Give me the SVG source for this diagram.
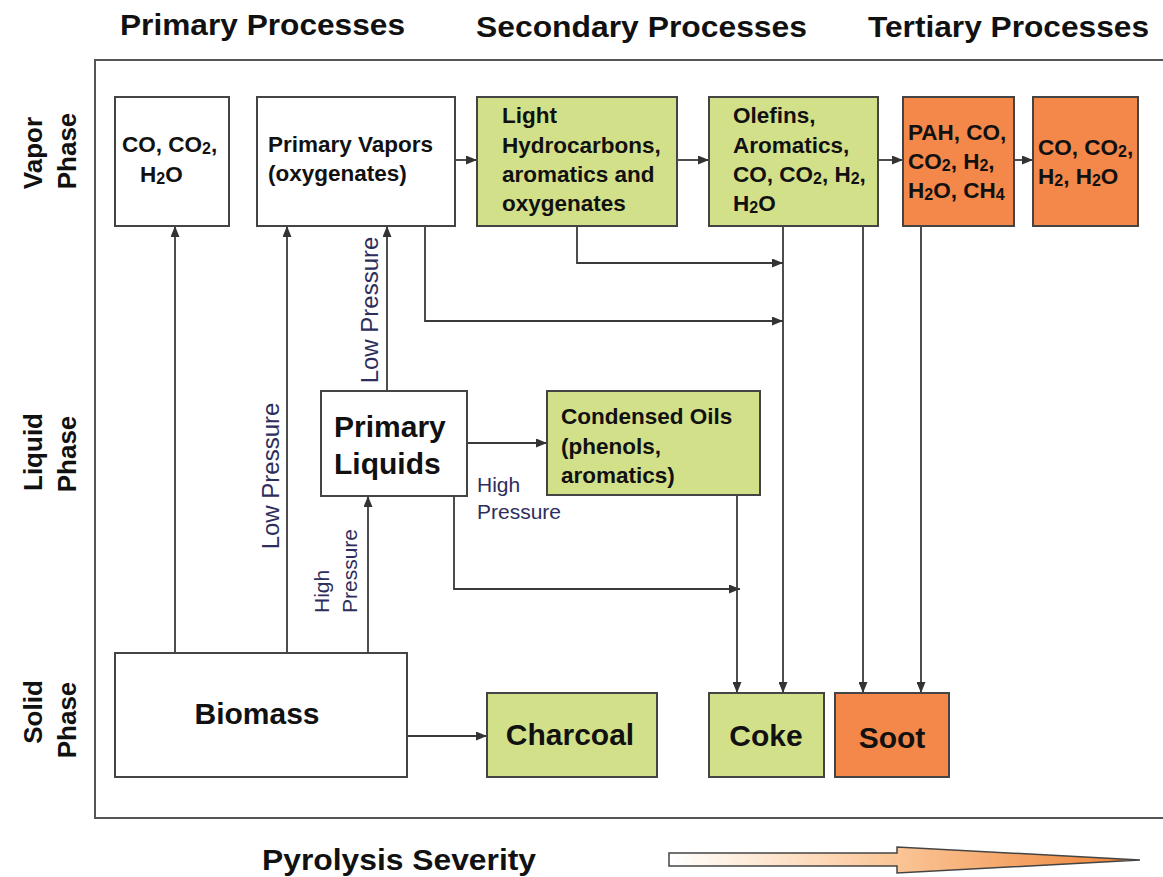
<svg xmlns="http://www.w3.org/2000/svg" width="1163" height="877" viewBox="0 0 1163 877">
<defs>
<style>
.box{stroke:#444;stroke-width:2}
.w{fill:#fff}
.g{fill:#d3e08a}
.o{fill:#f4874a}
.t{font-family:"Liberation Sans",Arial,sans-serif;font-weight:bold;font-size:22.5px;fill:#111}
.big{font-family:"Liberation Sans",Arial,sans-serif;font-weight:bold;font-size:30px;fill:#111}
.hdr{font-family:"Liberation Sans",Arial,sans-serif;font-weight:bold;font-size:29px;fill:#111}
.side{font-family:"Liberation Sans",Arial,sans-serif;font-weight:bold;font-size:26px;fill:#111}
.lbl{font-family:"Liberation Sans",Arial,sans-serif;font-size:21px;fill:#2e2e5c}
.lblv{font-family:"Liberation Sans",Arial,sans-serif;font-size:24px;fill:#2e2e5c}
.c{fill:none;stroke:#3a3a3a;stroke-width:1.8}
</style>
<marker id="ah" markerUnits="userSpaceOnUse" markerWidth="11" markerHeight="9" refX="11" refY="4.5" orient="auto">
<path d="M0,0 L11,4.5 L0,9 z" fill="#333"/>
</marker>
<linearGradient id="sev" x1="0" y1="0" x2="1" y2="0">
<stop offset="0" stop-color="#ffffff"/>
<stop offset="0.45" stop-color="#fbc99c"/>
<stop offset="1" stop-color="#ee8336"/>
</linearGradient>
</defs>

<g id="headers">
<text class="hdr" x="120" y="35" textLength="285" lengthAdjust="spacingAndGlyphs">Primary Processes</text>
<text class="hdr" x="476" y="37" textLength="331" lengthAdjust="spacingAndGlyphs">Secondary Processes</text>
<text class="hdr" x="868" y="37" textLength="281" lengthAdjust="spacingAndGlyphs">Tertiary Processes</text>
</g>

<rect id="frame" x="95" y="60" width="1100" height="758" fill="none" stroke="#555" stroke-width="2"/>

<g id="phase-labels">
<text class="side" transform="translate(42,153) rotate(-90)" text-anchor="middle">Vapor</text>
<text class="side" transform="translate(76,151) rotate(-90)" text-anchor="middle">Phase</text>
<text class="side" transform="translate(42,452) rotate(-90)" text-anchor="middle">Liquid</text>
<text class="side" transform="translate(76,454) rotate(-90)" text-anchor="middle">Phase</text>
<text class="side" transform="translate(42,712) rotate(-90)" text-anchor="middle">Solid</text>
<text class="side" transform="translate(76,720) rotate(-90)" text-anchor="middle">Phase</text>
</g>

<g id="connectors">
<path class="c" d="M175,653 V226" marker-end="url(#ah)"/>
<path class="c" d="M287,653 V226" marker-end="url(#ah)"/>
<path class="c" d="M368,653 V496" marker-end="url(#ah)"/>
<path class="c" d="M387,391 V226" marker-end="url(#ah)"/>
<path class="c" d="M455,160 H477" marker-end="url(#ah)"/>
<path class="c" d="M677,160 H709" marker-end="url(#ah)"/>
<path class="c" d="M878,160 H903" marker-end="url(#ah)"/>
<path class="c" d="M1014,160 H1033" marker-end="url(#ah)"/>
<path class="c" d="M577,226 V263 H783" marker-end="url(#ah)"/>
<path class="c" d="M425,226 V321 H783" marker-end="url(#ah)"/>
<path class="c" d="M783,226 V693" marker-end="url(#ah)"/>
<path class="c" d="M863,226 V693" marker-end="url(#ah)"/>
<path class="c" d="M921,226 V693" marker-end="url(#ah)"/>
<path class="c" d="M467,443 H547" marker-end="url(#ah)"/>
<path class="c" d="M454,496 V589 H740" marker-end="url(#ah)"/>
<path class="c" d="M737,495 V693" marker-end="url(#ah)"/>
<path class="c" d="M407,736 H487" marker-end="url(#ah)"/>
<text class="lblv" transform="translate(279,476) rotate(-90)" text-anchor="middle">Low Pressure</text>
<text class="lblv" transform="translate(378,310) rotate(-90)" text-anchor="middle">Low Pressure</text>
<text class="lbl" transform="translate(329,613) rotate(-90)">High</text>
<text class="lbl" transform="translate(357,613) rotate(-90)">Pressure</text>
<text class="lbl" x="477" y="492">High</text>
<text class="lbl" x="477" y="519">Pressure</text>
</g>

<g id="n-co">
<rect class="box w" x="115" y="97" width="114" height="129"/>
<text class="t" x="122" y="152">CO, CO<tspan font-size="16" dy="2">2</tspan><tspan dy="-2">,</tspan></text>
<text class="t" x="140" y="182">H<tspan font-size="16" dy="2">2</tspan><tspan dy="-2">O</tspan></text>
</g>

<g id="n-primary-vapors">
<rect class="box w" x="257" y="97" width="198" height="129"/>
<text class="t" x="268" y="152">Primary Vapors</text>
<text class="t" x="268" y="181">(oxygenates)</text>
</g>

<g id="n-light-hc">
<rect class="box g" x="477" y="97" width="200" height="129"/>
<text class="t" x="502" y="123">Light</text>
<text class="t" x="502" y="153">Hydrocarbons,</text>
<text class="t" x="502" y="182">aromatics and</text>
<text class="t" x="502" y="211">oxygenates</text>
</g>

<g id="n-olefins">
<rect class="box g" x="709" y="97" width="169" height="129"/>
<text class="t" x="733" y="123">Olefins,</text>
<text class="t" x="733" y="153">Aromatics,</text>
<text class="t" x="733" y="182">CO, CO<tspan font-size="16" dy="2">2</tspan><tspan dy="-2">, H</tspan><tspan font-size="16" dy="2">2</tspan><tspan dy="-2">,</tspan></text>
<text class="t" x="733" y="211">H<tspan font-size="16" dy="2">2</tspan><tspan dy="-2">O</tspan></text>
</g>

<g id="n-pah">
<rect class="box o" x="903" y="97" width="111" height="129"/>
<text class="t" x="908" y="140">PAH, CO,</text>
<text class="t" x="908" y="169">CO<tspan font-size="16" dy="2">2</tspan><tspan dy="-2">, H</tspan><tspan font-size="16" dy="2">2</tspan><tspan dy="-2">,</tspan></text>
<text class="t" x="908" y="198">H<tspan font-size="16" dy="2">2</tspan><tspan dy="-2">O, CH</tspan><tspan font-size="16" dy="2">4</tspan></text>
</g>

<g id="n-gases">
<rect class="box o" x="1033" y="97" width="105" height="129"/>
<text class="t" x="1038" y="155">CO, CO<tspan font-size="16" dy="2">2</tspan><tspan dy="-2">,</tspan></text>
<text class="t" x="1038" y="184">H<tspan font-size="16" dy="2">2</tspan><tspan dy="-2">, H</tspan><tspan font-size="16" dy="2">2</tspan><tspan dy="-2">O</tspan></text>
</g>

<g id="n-primary-liquids">
<rect class="box w" x="321" y="391" width="146" height="105"/>
<text class="big" x="334" y="437">Primary</text>
<text class="big" x="334" y="474">Liquids</text>
</g>

<g id="n-condensed-oils">
<rect class="box g" x="547" y="391" width="213" height="104"/>
<text class="t" x="561" y="424">Condensed Oils</text>
<text class="t" x="561" y="454">(phenols,</text>
<text class="t" x="561" y="483">aromatics)</text>
</g>

<g id="n-biomass">
<rect class="box w" x="115" y="653" width="292" height="124"/>
<text class="big" x="257" y="724" text-anchor="middle">Biomass</text>
</g>

<g id="n-charcoal">
<rect class="box g" x="487" y="693" width="170" height="84"/>
<text class="big" x="570" y="745" text-anchor="middle">Charcoal</text>
</g>

<g id="n-coke">
<rect class="box g" x="709" y="693" width="115" height="84"/>
<text class="big" x="766" y="746" text-anchor="middle">Coke</text>
</g>

<g id="n-soot">
<rect class="box o" x="835" y="693" width="114" height="84"/>
<text class="big" x="892" y="748" text-anchor="middle">Soot</text>
</g>

<g id="severity">
<text class="hdr" x="262" y="870" textLength="274" lengthAdjust="spacingAndGlyphs">Pyrolysis Severity</text>
<polygon points="669,853 897,853 897,847 1140,860 897,873 897,866 669,866" fill="url(#sev)" stroke="#444" stroke-width="1.5"/>
</g>
</svg>
